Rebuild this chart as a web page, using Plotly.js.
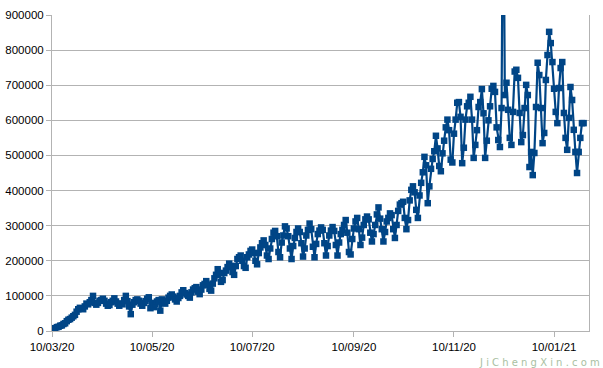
<!DOCTYPE html>
<html>
<head>
<meta charset="utf-8">
<script src="https://cdn.plot.ly/plotly-3.0.1.min.js"></script>
<style>html,body{margin:0;padding:0;background:#fff}#chart{width:603px;height:368px}</style>
</head>
<body>
<div id="chart"></div>
<script>
// Daily values, first day 2020-03-10
const startDate = '2020-03-10';
const mar = [5000,7000,8000,11000,12000,15000,16000,20000,22000,28000,32000,34000,38000,42000,46000,55000,62000,66000,64000,62000,70000,78000];
const apr = [76000,82000,88000,100000,80000,75000,80000,86000,88000,92000,86000,78000,72000,74000,82000,86000,93000,84000,78000,72000,78000,76000,88000,100000,85000,70000,48000,75000,82000,88000];
const may = [90000,86000,78000,72000,80000,85000,92000,96000,65000,80000,68000,76000,84000,88000,58000,90000,82000,78000,86000,95000,100000,104000,98000,90000,84000,94000,100000,110000,116000,108000,104000];
const jun = [100000,95000,110000,118000,122000,125000,112000,105000,118000,130000,134000,142000,132000,120000,115000,135000,150000,160000,176000,165000,140000,145000,165000,172000,182000,192000,185000,168000,160000,185000];
const jul = [205000,210000,215000,200000,185000,180000,210000,218000,228000,232000,222000,200000,190000,222000,238000,250000,258000,245000,215000,205000,235000,262000,280000,285000,270000,225000,210000,252000,272000,298000,292000];
const aug = [270000,235000,205000,242000,265000,282000,292000,282000,250000,212000,235000,272000,288000,306000,290000,240000,210000,248000,276000,286000,295000,288000,250000,215000,242000,272000,286000,296000,285000,245000,215000];
const sep = [252000,276000,288000,302000,316000,280000,225000,218000,262000,292000,312000,322000,290000,245000,266000,302000,318000,326000,318000,280000,255000,276000,302000,332000,352000,320000,290000,255000,282000,312000];
const oct = [322000,335000,330000,290000,265000,302000,342000,360000,364000,368000,322000,290000,316000,372000,402000,412000,395000,345000,322000,386000,422000,452000,496000,472000,364000,412000,462000,490000,512000,556000,520000];
const nov = [470000,455000,506000,542000,580000,602000,572000,488000,480000,562000,602000,650000,652000,610000,478000,522000,602000,640000,650000,667000,602000,493000,530000,572000,638000,652000,689000,620000,493000,542000];
const dec = [600000,640000,690000,698000,681000,580000,544000,524000,635000,1400000,672000,707000,630000,550000,530000,624000,739000,744000,721000,621000,538000,558000,635000,701000,672000,467000,510000,444000,507000,638000,764000];
const jan = [729000,635000,535000,564000,715000,786000,852000,820000,766000,690000,624000,592000,692000,749000,766000,621000,550000,516000,607000,695000,658000,573000,510000,450000,510000,550000,592000,592000];

const tickDates = ['2020-03-10','2020-05-10','2020-07-10','2020-09-10','2020-11-10','2021-01-10'];
const tickLabels = ['10/03/20','10/05/20','10/07/20','10/09/20','10/11/20','10/01/21'];
const yTicks = [0,100000,200000,300000,400000,500000,600000,700000,800000,900000];

const values = [].concat(mar, apr, may, jun, jul, aug, sep, oct, nov, dec, jan);
const dates = values.map((v, i) => {
  const d = new Date(startDate + 'T00:00:00Z');
  d.setUTCDate(d.getUTCDate() + i);
  return d.toISOString().slice(0, 10);
});

const trace = {
  x: dates, y: values, type: 'scatter', mode: 'lines+markers',
  line: {color: '#004586', width: 2.2},
  marker: {symbol: 'square', size: 6.5, color: '#004586'},
  cliponaxis: true, hoverinfo: 'x+y'
};

const layout = {
  width: 603, height: 368,
  margin: {l: 52, r: 14, t: 15, b: 37},
  paper_bgcolor: '#ffffff', plot_bgcolor: '#ffffff',
  showlegend: false,
  font: {family: 'Liberation Sans, Arial, sans-serif', size: 11.5, color: '#000000'},
  xaxis: {
    type: 'date', range: ['2020-03-10', '2021-01-31 07:00'],
    tickmode: 'array', tickvals: tickDates, ticktext: tickLabels,
    showgrid: false, zeroline: false,
    showline: true, linecolor: '#b3b3b3', linewidth: 1,
    ticks: 'outside', ticklen: 5, tickcolor: '#b3b3b3',
    tickfont: {size: 11.5, color: '#000'}
  },
  yaxis: {
    range: [0, 900000], tickmode: 'array', tickvals: yTicks,
    ticktext: yTicks.map(String),
    showgrid: true, gridcolor: '#b3b3b3', gridwidth: 1, zeroline: false,
    showline: true, linecolor: '#b3b3b3', linewidth: 1, mirror: true,
    ticks: 'outside', ticklen: 5, tickcolor: '#b3b3b3',
    tickfont: {size: 11.5, color: '#000'}
  },
  annotations: [{
    text: 'J i C h e n g X i n . c o m', xref: 'paper', yref: 'paper',
    x: 1.025, y: -0.075, xanchor: 'right', yanchor: 'top', showarrow: false,
    font: {family: 'DejaVu Sans, sans-serif', size: 10, color: '#a9bfa2'}
  }]
};

Plotly.newPlot('chart', [trace], layout, {displayModeBar: false, staticPlot: true});
</script>
</body>
</html>
